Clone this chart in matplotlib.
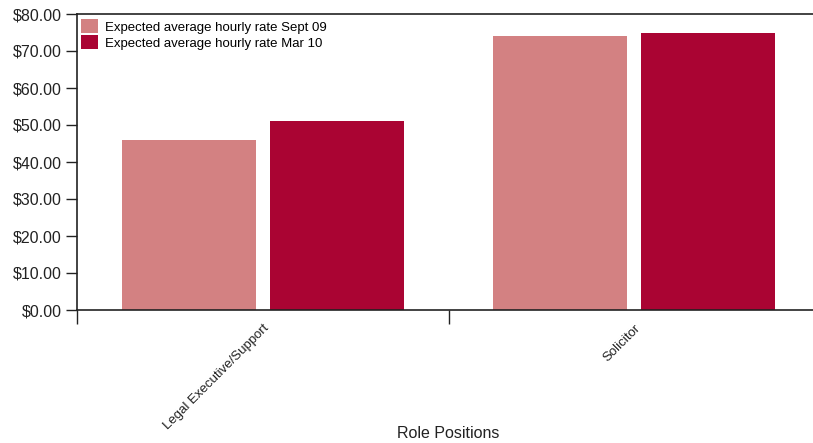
import matplotlib
matplotlib.use("Agg")
import matplotlib.pyplot as plt
from matplotlib.patches import Patch
import numpy as np

plt.rcParams['font.family'] = ['Liberation Sans', 'DejaVu Sans']

categories = ["Legal Executive/Support", "Solicitor"]
series_names = ["Expected average hourly rate Sept 09", "Expected average hourly rate Mar 10"]
sept09 = [46, 74]
mar10 = [51, 75]
yticks = [0, 10, 20, 30, 40, 50, 60, 70, 80]
colors = ["#D38182", "#AA0433"]

W, H = 813, 443
fig = plt.figure(figsize=(W / 100, H / 100), dpi=100)
ax_l, ax_r, ax_t, ax_b = 77, 820, 14, 310
ax = fig.add_axes([ax_l / W, 1 - ax_b / H, (ax_r - ax_l) / W, (ax_b - ax_t) / H])

centers = np.arange(len(categories)) + 0.5
bw = 0.36
gap = 0.038
ax.bar(centers - gap / 2 - bw / 2, sept09, width=bw, color=colors[0], label=series_names[0])
ax.bar(centers + gap / 2 + bw / 2, mar10, width=bw, color=colors[1], label=series_names[1])

ax.set_xlim(0, len(categories))
ax.set_ylim(0, 80)
ax.set_yticks(yticks)
ax.set_yticklabels([f"${v:.2f}" for v in yticks], fontsize=11.5, color="#222222")

ax.set_xticks(np.arange(len(categories) + 1))
ax.set_xticklabels([])
ax.set_xticks(centers, minor=True)
ax.set_xticklabels(categories, minor=True, rotation=45, ha="right", rotation_mode="anchor",
                   fontsize=9.5, color="#222222")
ax.tick_params(axis="x", which="major", length=10, width=1, color="#222222", direction="out")
ax.tick_params(axis="x", which="minor", length=0, pad=9)
ax.tick_params(axis="y", length=8, width=1, color="#222222", direction="out", pad=3)

for s in ["left", "bottom", "top"]:
    ax.spines[s].set_color("#222222")
    ax.spines[s].set_linewidth(1.2)
ax.spines["right"].set_visible(False)

ax.set_xlabel("Role Positions", fontsize=11.5, color="#222222")
ax.xaxis.set_label_coords(0.5, (ax_b - 426) / (ax_b - ax_t))

handles = [Patch(facecolor=colors[0]), Patch(facecolor=colors[1])]
ax.legend(handles, series_names, loc="upper left", bbox_to_anchor=(4 / (ax_r - ax_l), 1 - 5 / (ax_b - ax_t)),
          frameon=False, fontsize=9.5, handlelength=1.3, handleheight=1.3, handletextpad=0.5,
          labelspacing=0.1, borderpad=0, borderaxespad=0)

fig.savefig("out.png", dpi=100)
